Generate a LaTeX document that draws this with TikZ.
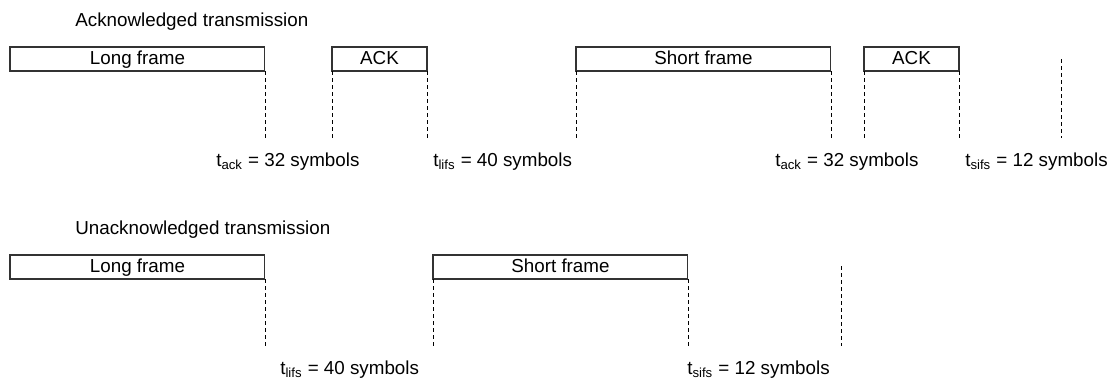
\documentclass[tikz,border=0pt]{standalone}
\usepackage{fontspec}
\setmainfont{Liberation Sans}
\usetikzlibrary{positioning, calc}

\begin{document}
\begin{tikzpicture}[
  x=0.02cm, y=-0.02cm,
  font=\fontsize{10.7}{13}\selectfont,
  title/.style  = {anchor=west, inner sep=0pt},
  frame/.style  = {draw=black!80, line width=0.6pt, minimum height=0.48cm,
                   text height=0.72em, text depth=0.12em,
                   inner sep=0pt, outer sep=0pt, anchor=north west},
  longf/.style  = {frame, minimum width=5.1cm},
  ackf/.style   = {frame, minimum width=1.9cm},
  guide/.style  = {dash pattern=on 2.3pt off 1.7pt, line width=0.5pt},
  tlabel/.style = {anchor=west, inner sep=0pt},
]
\useasboundingbox (0,0) rectangle (1107,379);

% =============================================================
% Acknowledged transmission (top row)
% =============================================================
\node[title] (titleA) at (75,22) {Acknowledged transmission};

\node[longf] (LFa)  at (10,47)  {Long frame};
\node[ackf]  (ACKa) at (332,47) {ACK};
\node[longf] (SFa)  at (576,47) {Short frame};
\node[ackf]  (ACKb) at (864,47) {ACK};

% lower end of the guides, free guide at the right
\coordinate (baseA) at (0,138);
\coordinate (freeAtop) at (1061,59);
\coordinate (freeAbot) at (1061,138);

\draw[guide] (LFa.south east)  -- (LFa.south east  |- baseA);
\draw[guide] (ACKa.south west) -- (ACKa.south west |- baseA);
\draw[guide] (ACKa.south east) -- (ACKa.south east |- baseA);
\draw[guide] (SFa.south west)  -- (SFa.south west  |- baseA);
\draw[guide] (SFa.south east)  -- (SFa.south east  |- baseA);
\draw[guide] (ACKb.south west) -- (ACKb.south west |- baseA);
\draw[guide] (ACKb.south east) -- (ACKb.south east |- baseA);
\draw[guide] (freeAtop) -- (freeAbot);

% --- interval labels ---
\node[tlabel] (tackA)  at (216,162) {t\textsubscript{ack} = 32 symbols};
\node[tlabel] (tlifsA) at (433,162) {t\textsubscript{lifs} = 40 symbols};
\node[tlabel] (tackB)  at (775,162) {t\textsubscript{ack} = 32 symbols};
\node[tlabel] (tsifsA) at (965,162) {t\textsubscript{sifs} = 12 symbols};

% =============================================================
% Unacknowledged transmission (bottom row)
% =============================================================
\node[title] (titleB) at (75,230) {Unacknowledged transmission};

\node[longf] (LFb) at (10,255)  {Long frame};
\node[longf] (SFb) at (433,255) {Short frame};

\coordinate (baseB) at (0,346);
\coordinate (freeBtop) at (841,266);
\coordinate (freeBbot) at (841,346);

\draw[guide] (LFb.south east) -- (LFb.south east |- baseB);
\draw[guide] (SFb.south west) -- (SFb.south west |- baseB);
\draw[guide] (SFb.south east) -- (SFb.south east |- baseB);
\draw[guide] (freeBtop) -- (freeBbot);

% --- interval labels ---
\node[tlabel] (tlifsB) at (280,370) {t\textsubscript{lifs} = 40 symbols};
\node[tlabel] (tsifsB) at (687,370) {t\textsubscript{sifs} = 12 symbols};

\end{tikzpicture}
\end{document}
